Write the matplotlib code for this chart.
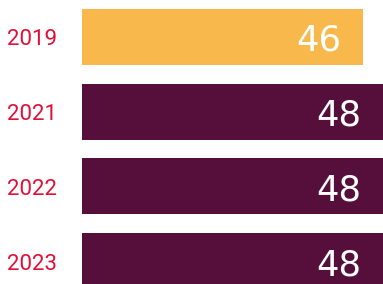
import matplotlib
matplotlib.use("Agg")
import matplotlib.pyplot as plt
import matplotlib.transforms as mtransforms

# ------------------------------------------------------------
# Data
# ------------------------------------------------------------
years = ["2019", "2021", "2022", "2023"]
values = [46, 48, 48, 48]
bar_colors = ["#F9B84B", "#560F3A", "#560F3A", "#560F3A"]

# ------------------------------------------------------------
# Figure
# ------------------------------------------------------------
W, H, DPI = 383, 284, 100
fig = plt.figure(figsize=(W / DPI, H / DPI), dpi=DPI)
ax = fig.add_axes([82 / W, 0, 1 - 82 / W, 1])

pos = list(range(len(years)))
ax.barh(pos, values, height=0.75, color=bar_colors, left=0)

# axis starts above zero so the bars look cropped like the original
ax.set_xlim(18, 48)
ax.set_ylim(3.308, -0.4955)
ax.axis("off")

# year labels on the left, in figure x / data y
trans = mtransforms.blended_transform_factory(fig.transFigure, ax.transData)
for i, yr in enumerate(years):
    ax.annotate(yr, xy=(7 / W, i), xycoords=trans, xytext=(0, -3),
                textcoords="offset pixels", ha="left", va="center",
                color="#E01039", fontsize=16, family="Roboto",
                annotation_clip=False)

# value labels inside the end of each bar
for i, v in enumerate(values):
    ax.annotate(str(v), xy=(v, i), xytext=(-22, -4), textcoords="offset pixels",
                ha="right", va="center", color="white", fontsize=25.5,
                family="DejaVu Sans")

fig.savefig("out.png", dpi=DPI)
